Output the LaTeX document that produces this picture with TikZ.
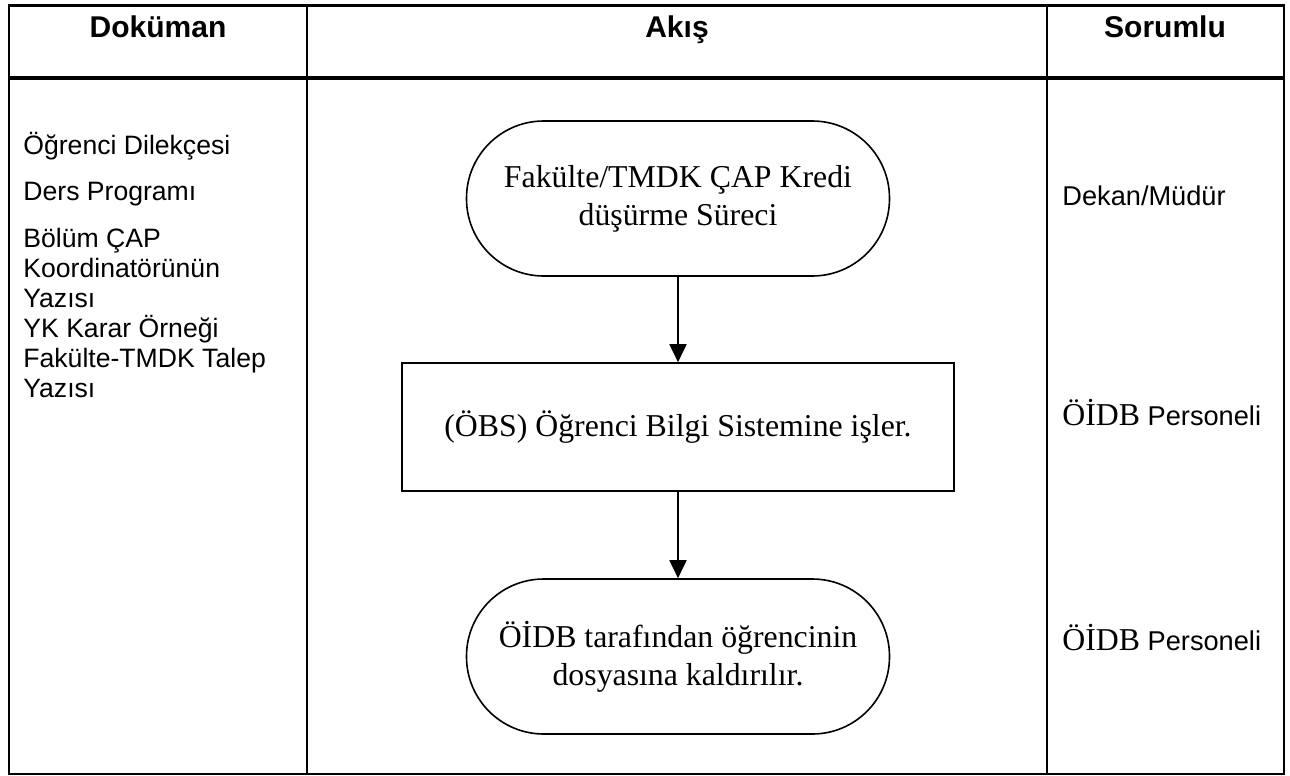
\documentclass[tikz,border=0pt]{standalone}
\usepackage{fontspec}
\setmainfont{Liberation Serif}
\newfontfamily\arial{Liberation Sans}
\usetikzlibrary{arrows.meta}
\tikzset{
  thinrule/.style={line width=1pt},
  thickrule/.style={line width=2pt},
  headtext/.style={font=\arial\bfseries\fontsize{15}{18}\selectfont, anchor=base},
  doctext/.style={font=\arial\fontsize{13.3}{15}\selectfont, anchor=base west, inner sep=0pt},
  resptext/.style={font=\arial\fontsize{13.6}{16}\selectfont, anchor=base west, inner sep=0pt},
  flowtext/.style={font=\fontsize{15.9}{19}\selectfont, align=center},
  terminal/.style={flowtext, draw, line width=0.8pt, rounded corners=38.6pt, minimum width=211.5pt, minimum height=77.5pt, inner sep=0pt},
  procbox/.style={flowtext, draw, line width=0.8pt, minimum width=276pt, minimum height=64pt, inner sep=0pt},
  arr/.style={line width=0.9pt, -{Triangle[length=9pt, width=8.5pt]}}
}
\begin{document}
\begin{tikzpicture}[x=0.5pt, y=-0.5pt]
\useasboundingbox (0,0) rectangle (1290,776);
% table frame
\draw[line width=1.75pt] (8,5.5) -- (1285,5.5);
\draw[thickrule] (8,78) -- (1285,78);
\draw[thinrule] (9,4) -- (9,775);
\draw[thinrule] (1284,4) -- (1284,775);
\draw[thinrule] (307,4) -- (307,775);
\draw[thinrule] (1047,4) -- (1047,775);
\draw[thinrule] (8,774) -- (1285,774);
% headers
\node[headtext] (h1) at (158,37) {Doküman};
\node[headtext] (h2) at (677,37) {Akış};
\node[headtext] (h3) at (1165,37) {Sorumlu};
% documents
\node[doctext] (d1) at (23,154) {Öğrenci Dilekçesi};
\node[doctext] (d2) at (23,200) {Ders Programı};
\node[doctext] (d3) at (23,247) {Bölüm ÇAP};
\node[doctext] (d4) at (23,277) {Koordinatörünün};
\node[doctext] (d5) at (23,307) {Yazısı};
\node[doctext] (d6) at (23,337) {YK Karar Örneği};
\node[doctext] (d7) at (23,367) {Fakülte-TMDK Talep};
\node[doctext] (d8) at (23,397) {Yazısı};
% responsible
\node[resptext] (s1) at (1062,205) {Dekan/Müdür};
\node[resptext] (s2) at (1062,425) {{\rmfamily\fontsize{15.9}{19}\selectfont ÖİDB} Personeli};
\node[resptext] (s3) at (1062,650) {{\rmfamily\fontsize{15.9}{19}\selectfont ÖİDB} Personeli};
% flow
\node[terminal] (t1) at (678,198.5) {Fakülte/TMDK ÇAP Kredi\\düşürme Süreci};
\node[procbox] (r1) at (678,427) {(ÖBS) Öğrenci Bilgi Sistemine işler.};
\node[terminal] (t2) at (678,656.5) {ÖİDB tarafından öğrencinin\\dosyasına kaldırılır.};
\draw[arr] (t1.south) -- (r1.north);
\draw[arr] (r1.south) -- (t2.north);
\end{tikzpicture}
\end{document}
